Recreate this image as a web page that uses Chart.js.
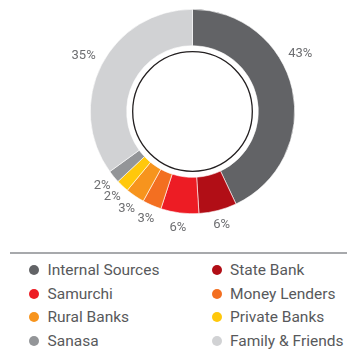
<!DOCTYPE html>
<html>
<head>
<meta charset="utf-8">
<script src="https://cdn.jsdelivr.net/npm/chart.js@4.4.1/dist/chart.umd.min.js"></script>
<style>
  html, body { margin: 0; padding: 0; background: #fff; }
  body { width: 347px; height: 351px; position: relative; overflow: hidden; font-family: Roboto, "DejaVu Sans", sans-serif; }
  #wrap { position: absolute; left: 0; top: 0; width: 347px; height: 250px; }
  #rule { position: absolute; left: 10px; top: 252px; width: 337px; height: 2px; background: #a7a9ac; }
  .item { position: absolute; height: 20px; line-height: 20px; font-size: 15.5px; color: #58595b; white-space: nowrap; }
  .dot { position: absolute; width: 10px; height: 10px; border-radius: 50%; top: 5px; left: 0; }
  .lbl { position: absolute; left: 14px; top: 0; }
</style>
</head>
<body>
<div id="wrap"><canvas id="c"></canvas></div>
<div id="rule"></div>
<div id="legend"></div>
<script>
const categories = ["Internal Sources", "State Bank", "Samurchi", "Money Lenders", "Rural Banks", "Private Banks", "Sanasa", "Family & Friends"];
const shares = [43, 6, 6, 3, 3, 2, 2, 35];
const colors = ["#626366", "#b10e16", "#ed1c24", "#f36f21", "#f7941d", "#ffc80b", "#939598", "#d1d2d4"];

const labelPlugin = {
  id: 'sliceLabels',
  afterDatasetsDraw(chart) {
    const ctx = chart.ctx;
    const meta = chart.getDatasetMeta(0);
    ctx.save();
    const a0 = meta.data[0];
    ctx.beginPath();
    ctx.arc(a0.x, a0.y, a0.innerRadius - 6, 0, Math.PI * 2);
    ctx.lineWidth = 1.3;
    ctx.strokeStyle = '#231f20';
    ctx.stroke();
    ctx.font = '13px Roboto, "DejaVu Sans", sans-serif';
    ctx.fillStyle = '#6d6e71';
    ctx.textAlign = 'center';
    ctx.textBaseline = 'middle';
    meta.data.forEach((arc, i) => {
      // large slices: label toward the slice's first part
      const f = shares[i] > 40 ? 0.4 : 0.5;
      const ang = arc.startAngle + (arc.endAngle - arc.startAngle) * f;
      const r = arc.outerRadius + (shares[i] > 20 ? 20 : 15);
      const x = arc.x + Math.cos(ang) * r;
      const y = arc.y + Math.sin(ang) * r;
      ctx.fillText(shares[i] + '%', x, y);
    });
    ctx.restore();
  }
};

new Chart(document.getElementById('c'), {
  type: 'doughnut',
  data: {
    labels: categories,
    datasets: [{
      data: shares,
      backgroundColor: colors,
      borderColor: '#ffffff',
      borderWidth: 0.6
    }]
  },
  options: {
    responsive: true,
    maintainAspectRatio: false,
    animation: false,
    cutout: '64.4%',
    layout: { padding: { top: 9, bottom: 36, left: 90, right: 52 } },
    plugins: { legend: { display: false }, tooltip: { enabled: false } }
  },
  plugins: [labelPlugin]
});

const legend = document.getElementById('legend');
categories.forEach((name, i) => {
  const col = i % 2, row = Math.floor(i / 2);
  const d = document.createElement('div');
  d.className = 'item';
  d.style.left = (col === 0 ? 28.5 : 212) + 'px';
  d.style.top = (260 + row * 23.5) + 'px';
  const dot = document.createElement('span');
  dot.className = 'dot';
  dot.style.background = colors[i];
  const t = document.createElement('span');
  t.className = 'lbl';
  t.style.left = (col === 0 ? 19 : 18) + 'px';
  t.textContent = name;
  d.appendChild(dot); d.appendChild(t);
  legend.appendChild(d);
});
</script>
</body>
</html>
